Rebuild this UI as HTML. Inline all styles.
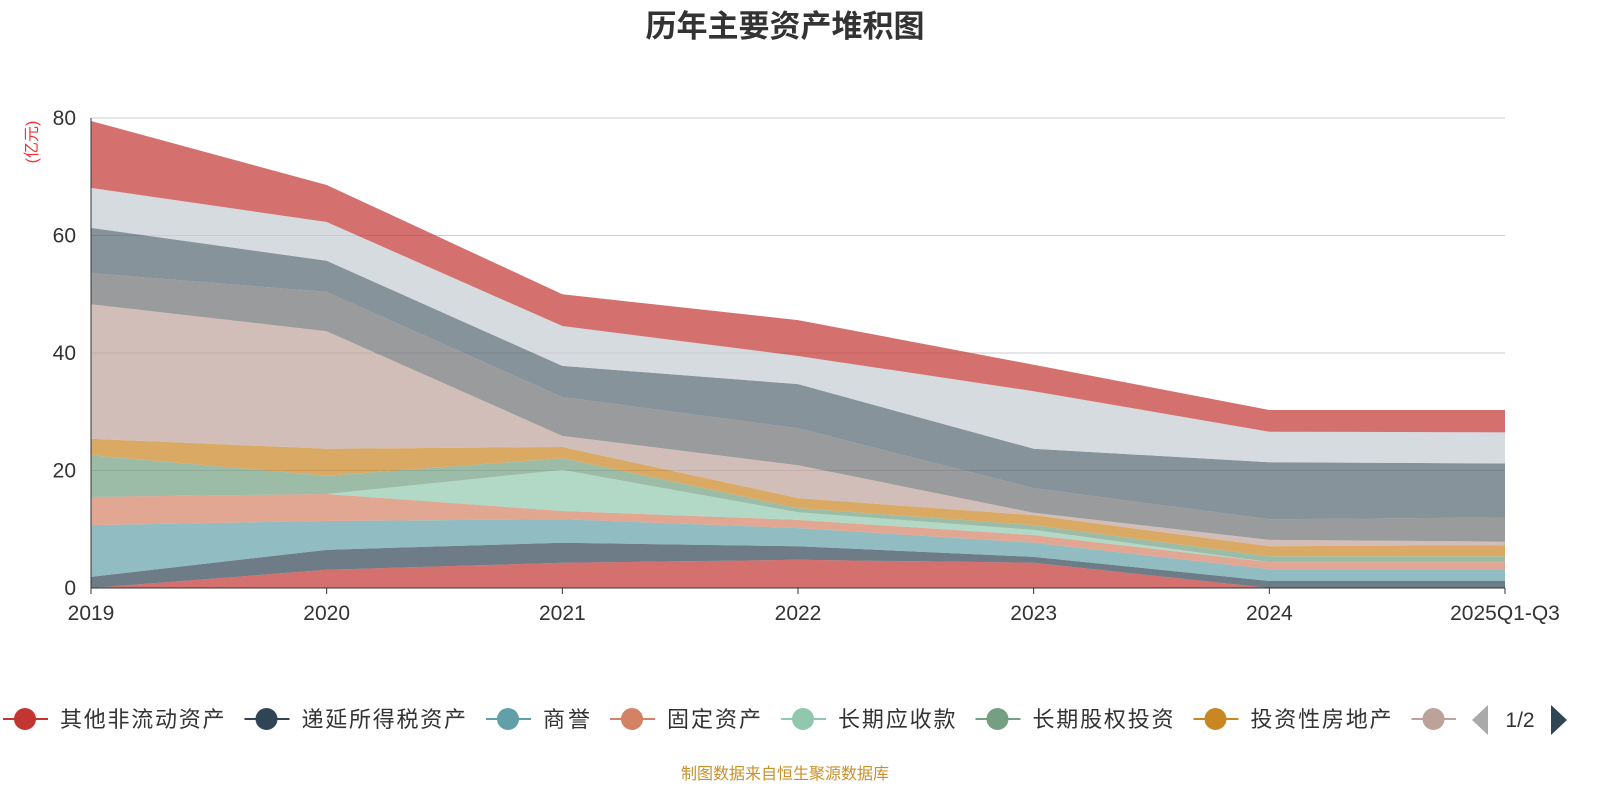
<!DOCTYPE html>
<html><head><meta charset="utf-8">
<style>
body{margin:0;background:#fff;font-family:"Liberation Sans","Noto Sans CJK SC",sans-serif;}
svg text{font-family:"Liberation Sans","Noto Sans CJK SC",sans-serif;}
</style></head>
<body>
<svg id="chart" width="1600" height="800">
<text x="785" y="37" text-anchor="middle" font-size="31" font-weight="bold" fill="#333">历年主要资产堆积图</text>
<text transform="translate(37,142) rotate(-90)" text-anchor="middle" font-size="16" fill="#e33">(亿元)</text>
<g id="grid"></g><g id="areas"></g><g id="axes"></g><g id="legend"></g>
<text x="785" y="779" text-anchor="middle" font-size="16" fill="#c8902c">制图数据来自恒生聚源数据库</text>
</svg>
<script>
const categories=["2019","2020","2021","2022","2023","2024","2025Q1-Q3"];
const seriesNames=["其他非流动资产","递延所得税资产","商誉","固定资产","长期应收款","长期股权投资","投资性房地产","在建工程","无形资产","使用权资产","长期待摊费用","其他资产"];
const s0=[0,3.1,4.3,4.8,4.3,0,0];
const s1=[1.9,3.4,3.4,2.3,1.0,1.2,1.2];
const s2=[8.8,4.9,4.0,3.1,2.4,2.0,2.0];
const s3=[4.8,4.6,1.4,1.4,1.3,1.2,1.2];
const s4=[0,0,7.0,1.3,0.9,0,0];
const s5=[7.1,3.1,2.0,0.7,0.8,1.0,1.0];
const s6=[2.8,4.6,1.9,1.7,1.7,1.7,1.9];
const s7=[22.9,20.0,1.9,5.6,0.4,1.1,0.6];
const s8=[5.3,6.7,6.6,6.3,4.2,3.5,4.1];
const s9=[7.7,5.3,5.3,7.5,6.7,9.7,9.2];
const s10=[6.8,6.6,6.8,4.8,9.8,5.2,5.3];
const s11=[11.4,6.3,5.4,6.1,4.5,3.7,3.8];
const yTicks=[0,20,40,60,80];
const series=[s0,s1,s2,s3,s4,s5,s6,s7,s8,s9,s10,s11];
const colors=["#c23531","#2f4554","#61a0a8","#d48265","#91c7ae","#749f83","#ca8622","#bda29a","#6e7074","#546570","#c4ccd3","#c23531"];
const NS="http://www.w3.org/2000/svg";
const X0=91,X1=1505,Y0=588,Y1=118,YMAX=80;
const xs=i=>X0+(X1-X0)*i/(categories.length-1);
const ys=v=>Y0-(Y0-Y1)*v/YMAX;
function mk(t,a,p){const e=document.createElementNS(NS,t);for(const k in a)e.setAttribute(k,a[k]);p.appendChild(e);return e;}
const grid=document.getElementById('grid'),areas=document.getElementById('areas'),axes=document.getElementById('axes'),legend=document.getElementById('legend');
yTicks.forEach(t=>{
  const l=mk('line',{x1:X0,x2:X1,y1:ys(t),y2:ys(t),stroke:t===0?'#333':'#ccc','stroke-width':1},grid);
  
  
  const tx=mk('text',{x:X0-15,y:ys(t)+7,'text-anchor':'end','font-size':21,fill:'#333'},axes);
  tx.textContent=t;
  
  
});
let base=categories.map(()=>0);
series.forEach((s,k)=>{
  const top=base.map((b,i)=>b+s[i]);
  let d='M'+top.map((v,i)=>xs(i)+','+ys(v)).join(' L');
  for(let i=categories.length-1;i>=0;i--)d+=' L'+xs(i)+','+ys(base[i]);
  d+='Z';
  const p=mk('path',{d:d,fill:colors[k],'fill-opacity':0.7,stroke:'none'},areas);
  
  
  base=top;
});
mk('line',{x1:X0,x2:X0,y1:Y1,y2:Y0,stroke:'#333'},axes);
mk('line',{x1:X0,x2:X1,y1:Y0,y2:Y0,stroke:'#333'},axes);
categories.forEach((c,i)=>{
  mk('line',{x1:xs(i),x2:xs(i),y1:Y0,y2:Y0+6,stroke:'#333'},axes);
  const t=mk('text',{x:xs(i),y:620,'text-anchor':'middle','font-size':21,fill:'#333'},axes);
  t.textContent=c;
  
  
});
let lx=3;
for(let k=0;k<8;k++){
  const g=mk('g',{},legend);
  
  
  mk('line',{x1:lx,x2:lx+45,y1:719,y2:719,stroke:colors[k],'stroke-width':2},g);
  mk('circle',{cx:lx+22,cy:719,r:11,fill:colors[k]},g);
  if(k<7){
    const t=mk('text',{x:lx+57,y:727,'font-size':22,fill:'#333',textLength:seriesNames[k].length*23.5},g);
    t.textContent=seriesNames[k];
    lx+=57+seriesNames[k].length*23.5+20;
  }
}
mk('rect',{x:1456,y:700,width:144,height:40,fill:'#fff'},legend);
const pl=mk('polygon',{points:'1488,705 1488,735 1472,720',fill:'#aaa'},legend);


const pt=mk('text',{x:1520,y:727,'text-anchor':'middle','font-size':21,fill:'#333'},legend);
pt.textContent='1/2';


const pn=mk('polygon',{points:'1551,705 1551,735 1567,720',fill:'#2f4554'},legend);


</script>
</body></html>
